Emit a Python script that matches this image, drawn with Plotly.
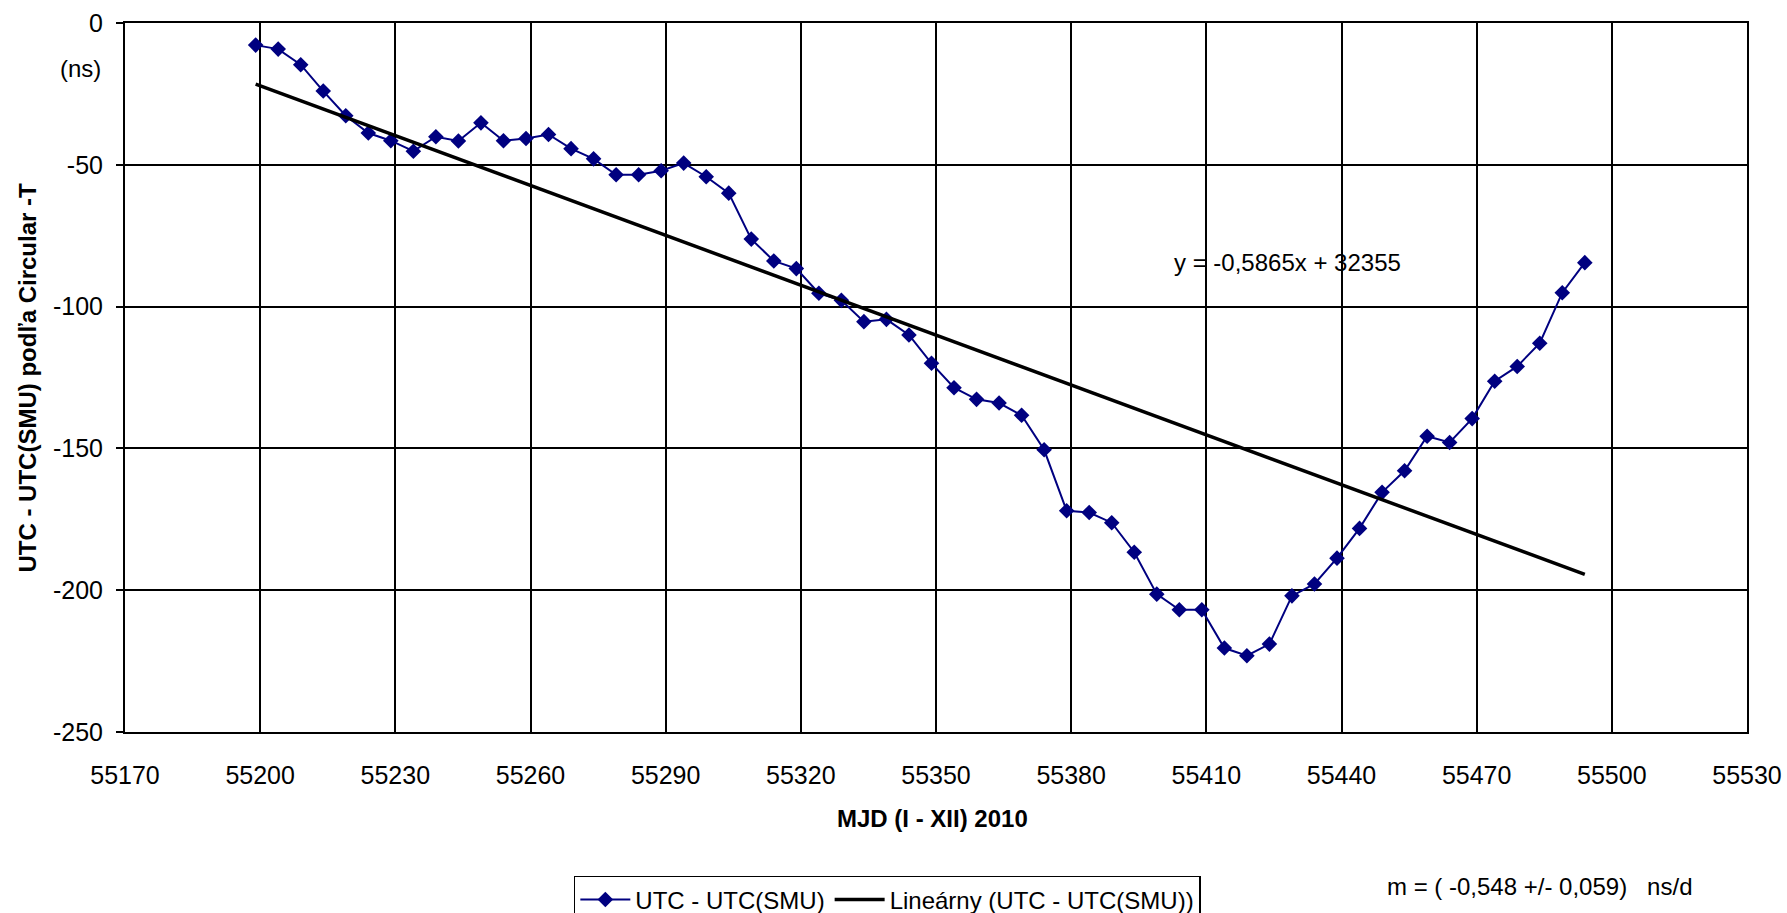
import numpy as np
import plotly.graph_objects as go

# ---- data ----
mjd = [55199, 55204, 55209, 55214, 55219, 55224, 55229, 55234, 55239, 55244,
       55249, 55254, 55259, 55264, 55269, 55274, 55279, 55284, 55289, 55294,
       55299, 55304, 55309, 55314, 55319, 55324, 55329, 55334, 55339, 55344,
       55349, 55354, 55359, 55364, 55369, 55374, 55379, 55384, 55389, 55394,
       55399, 55404, 55409, 55414, 55419, 55424, 55429, 55434, 55439, 55444,
       55449, 55454, 55459, 55464, 55469, 55474, 55479, 55484, 55489, 55494]
utc_diff = [-7.8, -9.2, -14.7, -24.0, -32.7, -38.8, -41.5, -45.2, -40.1, -41.6,
            -35.2, -41.5, -40.7, -39.3, -44.3, -47.9, -53.5, -53.5, -52.1, -49.4,
            -54.2, -60.0, -76.2, -83.9, -86.6, -95.3, -97.8, -105.3, -104.5, -110.0,
            -120.0, -128.6, -132.7, -134.0, -138.3, -150.5, -172.0, -172.6, -176.2, -186.6,
            -201.4, -206.9, -206.9, -220.4, -223.1, -219.0, -202.0, -197.8, -188.7, -178.2,
            -165.5, -157.9, -145.7, -147.9, -139.5, -126.3, -121.1, -112.9, -95.1, -84.5]

series_name = "UTC - UTC(SMU)"
trend_name = "Lineárny (UTC - UTC(SMU))"
x_title = "MJD (I - XII) 2010"
y_title = "UTC - UTC(SMU) podľa Circular -T"
unit_label = "(ns)"
equation_label = "y = -0,5865x + 32355"
slope_label = "m = ( -0,548 +/- 0,059)   ns/d"

x_range = [55170, 55530]
x_dtick = 30
y_range = [-250, 0]
y_tick_values = [0, -50, -100, -150, -200, -250]
y_tick_labels = ["0", "-50", "-100", "-150", "-200", "-250"]

# linear trend computed from the data
coef = np.polyfit(np.array(mjd, dtype=float), np.array(utc_diff, dtype=float), 1)
trend_x = [mjd[0], mjd[-1]]
trend_y = [float(np.polyval(coef, v)) for v in trend_x]

FONT = "Liberation Sans, Arial, sans-serif"
NAVY = "#000080"

fig = go.Figure()
fig.add_trace(go.Scatter(
    x=mjd, y=utc_diff, name=series_name, mode="lines+markers",
    line=dict(color=NAVY, width=2),
    marker=dict(symbol="diamond", size=12, color=NAVY),
))
fig.add_trace(go.Scatter(
    x=trend_x, y=trend_y, name=trend_name, mode="lines",
    line=dict(color="black", width=3.5),
))

fig.update_layout(
    width=1787, height=913,
    margin=dict(l=125, r=40, t=23, b=181, autoexpand=False),
    paper_bgcolor="white", plot_bgcolor="white",
    font=dict(family=FONT, size=24, color="black"),
    showlegend=True,
    legend=dict(
        orientation="h", x=0.47, xanchor="center", y=-0.203, yanchor="top",
        bordercolor="black", borderwidth=1.5, font=dict(size=24),
        itemwidth=50, tracegroupgap=0,
    ),
)

fig.update_xaxes(
    range=x_range, tick0=x_range[0], dtick=x_dtick,
    showgrid=True, gridcolor="black", gridwidth=2,
    showline=True, linecolor="black", linewidth=2, mirror=True,
    ticks="", ticklabelstandoff=20, zeroline=False,
    tickfont=dict(size=25), tickformat="d",
)
fig.update_yaxes(
    range=y_range, tickvals=y_tick_values, ticktext=y_tick_labels,
    showgrid=True, gridcolor="black", gridwidth=2,
    showline=True, linecolor="black", linewidth=2, mirror=True,
    ticks="outside", ticklen=7, tickcolor="black", tickwidth=2,
    ticklabelstandoff=8, zeroline=False,
    tickfont=dict(size=25),
)

annotations = [
    dict(text="<b>" + y_title + "</b>", xref="paper", yref="paper",
         x=-0.0604, y=0.5, textangle=-90, showarrow=False,
         font=dict(size=24), xanchor="center", yanchor="middle"),
    dict(text="<b>" + x_title + "</b>", xref="paper", yref="paper",
         x=0.498, y=-0.1213, showarrow=False, font=dict(size=24),
         xanchor="center", yanchor="middle"),
    dict(text=unit_label, xref="paper", yref="paper",
         x=-0.0277, y=0.9365, showarrow=False, font=dict(size=24),
         xanchor="center", yanchor="middle"),
    dict(text=equation_label, xref="paper", yref="paper",
         x=0.7164, y=0.6615, showarrow=False, font=dict(size=24),
         xanchor="center", yanchor="middle"),
    dict(text=slope_label.replace("   ", "&nbsp;&nbsp;&nbsp;"), xref="paper", yref="paper",
         x=0.8718, y=-0.2186, showarrow=False, font=dict(size=24),
         xanchor="center", yanchor="middle"),
]
fig.update_layout(annotations=annotations)

fig.write_html("out.html", config={"displayModeBar": False},
               post_script="document.body.style.margin='0px';")
